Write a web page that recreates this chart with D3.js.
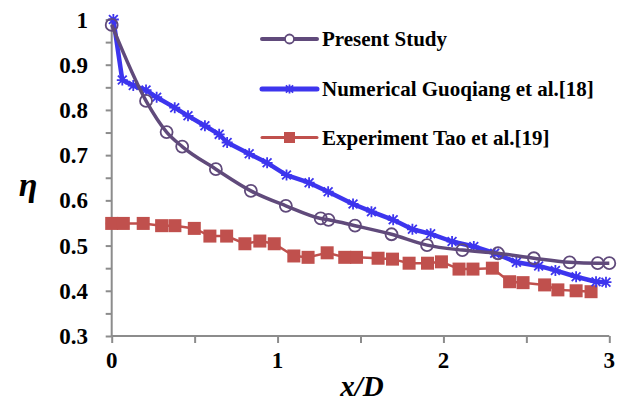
<!DOCTYPE html>
<html>
<head>
<meta charset="utf-8">
<script src="https://cdn.jsdelivr.net/npm/d3@7"></script>
<style>
  html, body { margin: 0; padding: 0; background: #fff; }
  svg { display: block; }
  text { font-family: "Liberation Serif", "Times New Roman", serif; font-weight: bold; fill: #000; }
</style>
</head>
<body>
<svg id="chart" width="621" height="403"></svg>
<script>
// Present Study (CFD)
const presentX = [0, 0.207, 0.331, 0.425, 0.628, 0.839, 1.05, 1.26, 1.307, 1.467, 1.687, 1.901, 2.114, 2.329, 2.545, 2.761, 2.93, 3.0];
const presentY = [0.988, 0.82, 0.751, 0.719, 0.669, 0.621, 0.588, 0.560, 0.557, 0.544, 0.525, 0.501, 0.490, 0.483, 0.472, 0.463, 0.461, 0.461];

// Numerical results, Guoqiang et al. [18]
const numericalX = [0.01, 0.064, 0.13, 0.207, 0.271, 0.38, 0.46, 0.562, 0.648, 0.696, 0.829, 0.937, 1.054, 1.19, 1.305, 1.455, 1.566, 1.697, 1.813, 1.923, 2.052, 2.183, 2.309, 2.44, 2.574, 2.675, 2.80, 2.92, 2.98];
const numericalY = [1.0, 0.866, 0.854, 0.844, 0.828, 0.805, 0.787, 0.765, 0.746, 0.728, 0.703, 0.683, 0.656, 0.639, 0.619, 0.592, 0.575, 0.557, 0.536, 0.526, 0.509, 0.498, 0.483, 0.463, 0.455, 0.445, 0.431, 0.42, 0.419];

// Experimental data, Tao et al. [19]
const expX = [0, 0.07, 0.19, 0.301, 0.381, 0.498, 0.592, 0.693, 0.803, 0.893, 0.98, 1.098, 1.184, 1.299, 1.405, 1.476, 1.606, 1.693, 1.793, 1.904, 1.988, 2.094, 2.178, 2.295, 2.399, 2.48, 2.61, 2.69, 2.80, 2.89];
const expY = [0.549, 0.549, 0.549, 0.544, 0.544, 0.538, 0.521, 0.521, 0.504, 0.51, 0.504, 0.477, 0.474, 0.484, 0.474, 0.474, 0.472, 0.47, 0.461, 0.461, 0.464, 0.448, 0.448, 0.45, 0.42, 0.418, 0.413, 0.402, 0.4, 0.398];

const xTicks = [0, 1, 2, 3];
const yTicks = [0.3, 0.4, 0.5, 0.6, 0.7, 0.8, 0.9, 1];
const seriesNames = ["Present Study", "Numerical Guoqiang et al.[18]", "Experiment Tao et al.[19]"];

const svg = d3.select("#chart");
const x = d3.scaleLinear().domain([0, 3]).range([111.7, 609.3]);
const y = d3.scaleLinear().domain([0.3, 1]).range([336, 19.5]);

const axisColor = "#8c8c8c";

// y axis: minor ticks every 0.05, labels every 0.1
const yAxis = svg.append("g").attr("transform", `translate(${x(0)},0)`)
  .call(d3.axisLeft(y).tickValues(d3.range(0.3, 1.0001, 0.05)).tickSize(6).tickFormat(""));
yAxis.select(".domain").attr("stroke", axisColor).attr("stroke-width", 2).attr("d", `M0,${y(0.3)}V${y(1)}`);
yAxis.selectAll(".tick line").attr("stroke", axisColor).attr("stroke-width", 2);

// x axis: ticks every 0.5, labels every 1
const xAxis = svg.append("g").attr("transform", `translate(0,${y(0.3)})`)
  .call(d3.axisBottom(x).tickValues(d3.range(0, 3.0001, 0.5)).tickSize(7).tickFormat(""));
xAxis.select(".domain").attr("stroke", axisColor).attr("stroke-width", 2).attr("d", `M${x(0)},0H${x(3)}`);
xAxis.selectAll(".tick line").attr("stroke", axisColor).attr("stroke-width", 2);

// tick labels
svg.append("g").selectAll("text").data(yTicks).join("text")
  .attr("x", 88).attr("y", d => y(d) + 8)
  .attr("text-anchor", "end").attr("font-size", 23)
  .text(d => d3.format("")(+d.toFixed(1)));
svg.append("g").selectAll("text").data(xTicks).join("text")
  .attr("x", d => x(d)).attr("y", 368)
  .attr("text-anchor", "middle").attr("font-size", 23)
  .text(d => d);

// axis titles
svg.append("text").attr("x", 362).attr("y", 396).attr("text-anchor", "middle")
  .attr("font-size", 29).attr("font-style", "italic").text("x/D");
svg.append("text").attr("x", 28).attr("y", 196).attr("text-anchor", "middle")
  .attr("font-size", 34).attr("font-style", "italic").text("η");

const line = d3.line().x(d => x(d[0])).y(d => y(d[1]));

const expPts = expX.map((v, i) => [v, expY[i]]);
const numPts = numericalX.map((v, i) => [v, numericalY[i]]);
const prePts = presentX.map((v, i) => [v, presentY[i]]);

const cRed = "#c0504d", cBlue = "#3d35ee", cPurple = "#604a7b";

function starPath(cx, cy, r) {
  let p = `M${cx - r},${cy}H${cx + r}`;
  const a = r * 0.8;
  p += `M${cx - a},${cy - a}L${cx + a},${cy + a}M${cx - a},${cy + a}L${cx + a},${cy - a}`;
  p += `M${cx},${cy - r}V${cy + r}`;
  return p;
}

// Experiment
svg.append("path").datum(expPts).attr("d", line).attr("fill", "none")
  .attr("stroke", cRed).attr("stroke-width", 2.5);
svg.append("g").selectAll("rect").data(expPts).join("rect")
  .attr("x", d => x(d[0]) - 6.5).attr("y", d => y(d[1]) - 6.5)
  .attr("width", 13).attr("height", 13).attr("fill", cRed);

// Numerical
svg.append("path").datum(numPts).attr("d", line).attr("fill", "none")
  .attr("stroke", cBlue).attr("stroke-width", 4.5).attr("stroke-linejoin", "round");
svg.append("g").selectAll("path").data(numPts).join("path")
  .attr("d", d => starPath(x(d[0]), y(d[1]), 5.5))
  .attr("stroke", cBlue).attr("stroke-width", 1.8).attr("fill", "none");

// Present study
svg.append("path").datum(prePts).attr("d", d3.line().curve(d3.curveMonotoneX).x(d => x(d[0])).y(d => y(d[1])))
  .attr("fill", "none").attr("stroke", cPurple).attr("stroke-width", 3.5);
svg.append("g").selectAll("circle").data(prePts).join("circle")
  .attr("cx", d => x(d[0])).attr("cy", d => y(d[1])).attr("r", 6)
  .attr("fill", "none").attr("stroke", cPurple).attr("stroke-width", 1.8);

// legend
const legend = svg.append("g");
const legY = [39, 89, 137.5];
const legX0 = 262, legX1 = 317, legMid = 289.5;
legend.append("line").attr("x1", legX0).attr("x2", legX1).attr("y1", legY[0]).attr("y2", legY[0])
  .attr("stroke", cPurple).attr("stroke-width", 4).attr("stroke-linecap", "round");
legend.append("circle").attr("cx", legMid).attr("cy", legY[0]).attr("r", 4.5)
  .attr("fill", "#fff").attr("stroke", cPurple).attr("stroke-width", 1.8);
legend.append("line").attr("x1", legX0).attr("x2", legX1).attr("y1", legY[1]).attr("y2", legY[1])
  .attr("stroke", cBlue).attr("stroke-width", 5).attr("stroke-linecap", "round");
legend.append("path").attr("d", starPath(legMid, legY[1], 4.5))
  .attr("stroke", cBlue).attr("stroke-width", 1.8).attr("fill", "none");
legend.append("line").attr("x1", legX0).attr("x2", legX1).attr("y1", legY[2]).attr("y2", legY[2])
  .attr("stroke", cRed).attr("stroke-width", 3).attr("stroke-linecap", "round");
legend.append("rect").attr("x", legMid - 5.5).attr("y", legY[2] - 5.5).attr("width", 11).attr("height", 11)
  .attr("fill", cRed);
legend.selectAll("text").data(seriesNames).join("text")
  .attr("x", 322).attr("y", (d, i) => legY[i] + 7)
  .attr("font-size", 21).text(d => d);
</script>
</body>
</html>
